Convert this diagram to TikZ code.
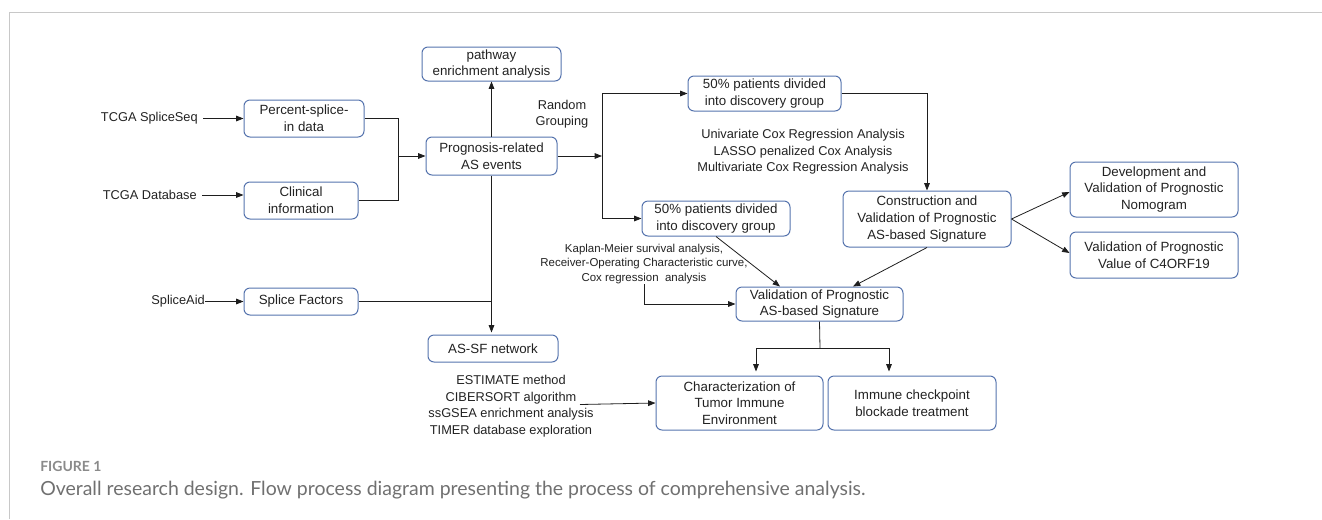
\documentclass[tikz,border=0pt]{standalone}
\usepackage{fontspec}
\setmainfont{Liberation Sans}
\newfontfamily\capfont{Lato}
\usetikzlibrary{arrows.meta,calc}
\definecolor{boxblue}{HTML}{5573AD}
\definecolor{txt}{HTML}{222222}
\definecolor{linec}{HTML}{1E1E1E}
\definecolor{framec}{HTML}{C8C8C8}
\definecolor{capc}{HTML}{707070}
\definecolor{figc}{HTML}{8A8A8A}
\tikzset{
  box/.style={draw=boxblue, line width=0.75pt, rounded corners=4.5pt, align=center, inner sep=0pt, text=txt, font=\fontsize{10}{12.5}\selectfont},
  bw/.style={minimum width=#1*0.75pt},
  bh/.style={minimum height=#1*0.75pt},
  lab/.style={inner sep=0pt, align=center, text=txt, font=\fontsize{9.6}{12.4}\selectfont},
  smalllab/.style={inner sep=0pt, align=center, text=txt, font=\fontsize{8.6}{11}\selectfont},
  conn/.style={line width=0.6pt, draw=linec},
  arr/.style={conn, -{Triangle[length=5.5pt,width=4.2pt]}}
}
\begin{document}
\begin{tikzpicture}[x=0.75pt,y=-0.75pt]
\useasboundingbox (0,0) rectangle (1322,519);
% frame
\draw[framec, line width=0.9pt] (9.5,519) -- (9.5,12.5) -- (1322,12.5);

% boxes
\node[box, bw=120, bh=37] (psi)  at (304,118.5) {Percent-splice-\\in data};
\node[box, bw=114, bh=37] (clin) at (301,200.5) {Clinical\\information};
\node[box, bw=114, bh=27] (sf)   at (301,301.5) {Splice Factors};
\node[box, bw=131, bh=38] (prog) at (491.5,156) {Prognosis-related\\AS events};
\node[box, bw=139, bh=34] (path) at (491.5,64) {pathway\\enrichment analysis};
\node[box, bw=130, bh=27] (assf) at (493,348.5) {AS-SF network};
\node[box, bw=153, bh=35] (g1)   at (764.5,93.5) {50\% patients divided\\into discovery group};
\node[box, bw=148, bh=35] (g2)   at (716,218.5) {50\% patients divided\\into discovery group};
\node[box, bw=168, bh=56] (cons) at (927,219) {Construction and\\Validation of Prognostic\\AS-based Signature};
\node[box, bw=168, bh=55] (dev)  at (1154,189.5) {Development and\\Validation of Prognostic\\Nomogram};
\node[box, bw=168, bh=46] (c4)   at (1154,255) {Validation of Prognostic\\Value of C4ORF19};
\node[box, bw=167, bh=34] (val)  at (819.5,304) {Validation of Prognostic\\AS-based Signature};
\node[box, bw=167, bh=54] (tie)  at (739.5,403) {Characterization of\\Tumor Immune\\Environment};
\node[box, bw=168, bh=54] (icb)  at (912,403) {Immune checkpoint\\blockade treatment};

% labels
\node[lab, anchor=east] (l1) at (198,118.5) {TCGA SpliceSeq};
\node[lab, anchor=east] (l2) at (197,195) {TCGA Database};
\node[lab, anchor=east] (l3) at (205,301.5) {SpliceAid};
\node[lab] (rg) at (562,114) {Random\\Grouping};
\node[lab] (cox) at (803,152) {Univariate Cox Regression Analysis\\LASSO penalized Cox Analysis\\Multivariate Cox Regression Analysis};
\node[smalllab] (km) at (644,264) {Kaplan-Meier survival analysis,\\Receiver-Operating Characteristic curve,\\Cox regression\ \ analysis};
\node[lab] (est) at (511,406) {ESTIMATE method\\CIBERSORT algorithm\\ssGSEA enrichment analysis\\TIMER database exploration};

% junction coordinates
\coordinate (j1) at (398,156);
\coordinate (j2) at (602,156);
\coordinate (j3) at (820,348);
\coordinate (e1) at (580,404.5);

% connectors
\draw[arr, shorten <=5*0.75pt] (l1.east) -- (psi.west);
\draw[arr, shorten <=5*0.75pt] (l2.east) -- (l2.east -| clin.west);
\draw[arr] (l3.east) -- (sf.west);
\draw[conn] (psi.east) -| (j1);
\draw[conn] (clin.east) -| (j1);
\draw[arr] (j1) -- (prog.west);
\draw[arr] (prog.north) -- (path.south);
\draw[arr] (prog.east) -- (j2);
\draw[arr] (j2) |- (g1.west);
\draw[arr] (j2) |- (g2.west);
\draw[arr] (g1.east) -| (cons.north);
\draw[arr] (cons.east) -- ($(dev.west)+(0,2.5)$);
\draw[arr] (cons.east) -- ($(c4.west)+(0,-2)$);
\draw[arr] (cons.south) -- ($(val.north)+(33.5,0)$);
\draw[arr] (g2.south) -- ($(val.north)+(-39.5,0)$);
\draw[arr] (km.south) |- (val.west);
\draw[conn] (val.south) -- (j3);
\draw[arr, shorten >=4*0.75pt] (j3) -| ($(tie.north)+(16.5,0)$);
\draw[arr, shorten >=4*0.75pt] (j3) -| ($(icb.north)+(-23,0)$);
\draw[arr, shorten >=2*0.75pt] (prog.south) -- (prog.south |- assf.north);
\draw[conn] (sf.east) -- (sf.east -| prog.south);
\draw[arr] (e1) -- (tie.west);

% caption
\node[anchor=base west, inner sep=0pt, text=figc, font=\capfont\bfseries\fontsize{10.5}{12}\selectfont] (fig) at (40,471) {FIGURE 1};
\node[anchor=base west, inner sep=0pt, text=capc, font=\capfont\fontsize{14.6}{17}\selectfont] (cap) at (40,495) {Overall research design. Flow process diagram presenting the process of comprehensive analysis.};
\end{tikzpicture}
\end{document}
